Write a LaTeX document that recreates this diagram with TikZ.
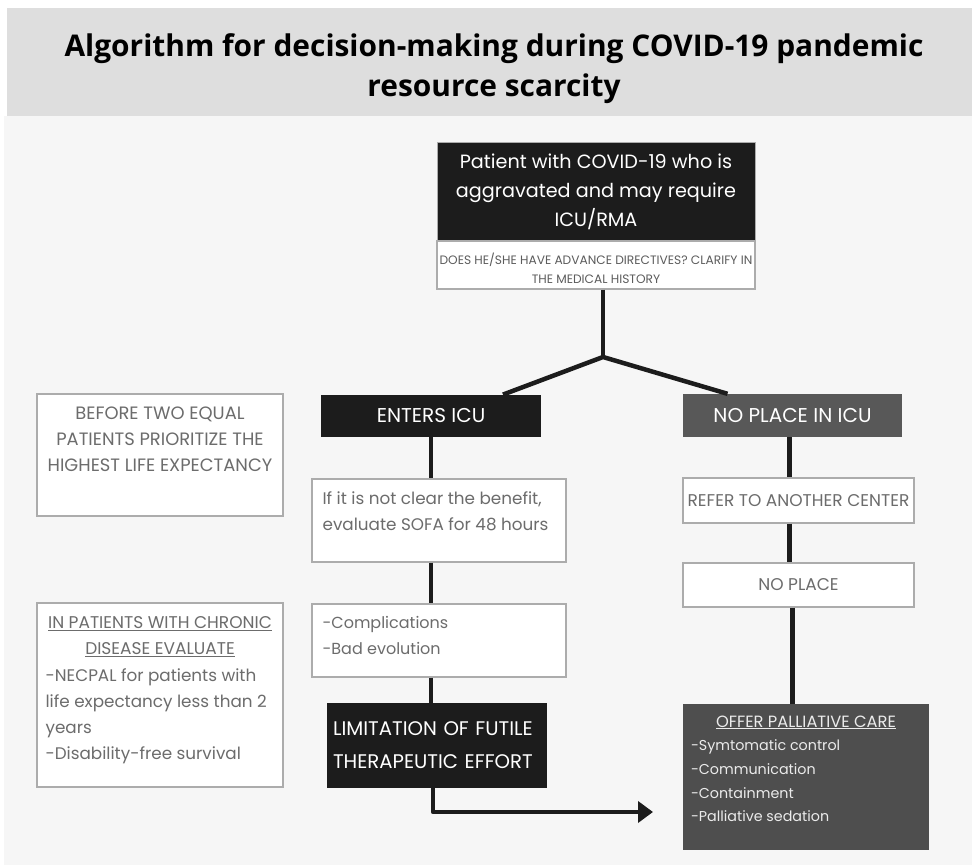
\documentclass[tikz,border=0pt]{standalone}
\usepackage{fontspec}
\setmainfont{Poppins}
\newfontfamily\titlefont{Open Sans}
\usepackage{tikz}
\usetikzlibrary{positioning, calc, arrows.meta}
\definecolor{cvblack}{RGB}{28,28,28}
\definecolor{cvdark}{RGB}{78,78,78}
\definecolor{cvgray}{RGB}{88,88,88}
\definecolor{cvtext}{RGB}{108,108,108}
\definecolor{cvline}{RGB}{172,172,172}
\definecolor{cvband}{RGB}{222,222,222}
\definecolor{cvback}{RGB}{246,246,246}

\begin{document}
\begin{tikzpicture}[x=1pt,y=-1pt,
  darkbox/.style={fill=cvblack,draw=cvline,line width=0.8pt,text=white,inner sep=0pt},
  greybox/.style={fill=cvgray,text=white,inner sep=0pt},
  lightbox/.style={draw=cvline,line width=1.2pt,fill=white,text=cvtext,inner sep=0pt},
  boxtext/.style={text=cvtext,inner sep=0pt,align=left,font=\fontsize{16.8}{26}\selectfont},
  link/.style={draw=cvblack,line width=4.5pt}]
\useasboundingbox (0,0) rectangle (972,866);
\fill[white] (0,0) rectangle (972,866);
\fill[cvback] (4,116) rectangle (972,865);
\fill[cvband] (7,8) rectangle (972,116);
\node[font=\titlefont\bfseries\fontsize{29.9}{40}\selectfont,align=center] (title) at (494,69)
  {Algorithm for decision-making during COVID-19 pandemic\\resource scarcity};

% top of the algorithm
\node[darkbox,minimum width=318pt,minimum height=99pt,align=center,
  font=\fontsize{19.2}{29}\selectfont] (patient) at (596,192)
  {Patient with COVID-19 who is\\aggravated and may require\\ICU/RMA};
\node[lightbox,minimum width=318pt,minimum height=48pt] (adv) at (596,265) {};
\node[text=cvtext!85!black,inner sep=0pt,align=center,font=\fontsize{12.2}{19}\selectfont]
  (adv-t) at ([yshift=-3pt]adv.center)
  {DOES HE/SHE HAVE ADVANCE DIRECTIVES? CLARIFY IN\\THE MEDICAL HISTORY};
\coordinate (fork) at (603,357);

\node[darkbox,draw=none,minimum width=220pt,minimum height=42pt,font=\fontsize{20}{22}\selectfont]
  (icu) at (431,416) {ENTERS ICU};
\node[greybox,minimum width=219pt,minimum height=43pt,font=\fontsize{20}{22}\selectfont]
  (nop) at (792.5,415.5) {NO PLACE IN ICU};
\draw[link] (adv.south -| fork) -- (fork);
\draw[link,line join=round] ([xshift=72pt]icu.north) -- (fork) -- ([xshift=-65pt]nop.north);

% left column
\node[lightbox,minimum width=246pt,minimum height=122pt] (before) at (160,455) {};
\node[text=cvtext,inner sep=0pt,align=center,font=\fontsize{17.9}{26}\selectfont,anchor=north]
  (before-t) at ([yshift=-13pt]before.north)
  {BEFORE TWO EQUAL\\PATIENTS PRIORITIZE THE\\HIGHEST LIFE EXPECTANCY};
\node[lightbox,minimum width=246pt,minimum height=184pt] (chronic) at (160,695) {};
\node[text=cvtext,inner sep=0pt,align=center,font=\fontsize{17}{26}\selectfont,anchor=north]
  (chronic-h) at ([yshift=-14pt]chronic.north)
  {\underline{IN PATIENTS WITH CHRONIC}\\\underline{DISEASE EVALUATE}};
\node[boxtext,anchor=north west]
  (chronic-t) at ([xshift=9pt,yshift=-66pt]chronic.north west)
  {-NECPAL for patients with\\life expectancy less than 2\\years\\-Disability-free survival};

% ICU branch
\node[lightbox,minimum width=254pt,minimum height=83pt] (sofa) at (439,520.5) {};
\node[boxtext,anchor=north west] (sofa-t) at ([xshift=11pt,yshift=-13.5pt]sofa.north west)
  {If it is not clear the benefit,\\evaluate SOFA for 48 hours};
\node[lightbox,minimum width=254pt,minimum height=73pt] (comp) at (439,640.5) {};
\node[boxtext,font=\fontsize{16}{26}\selectfont,anchor=north west] (comp-t)
  at ([xshift=11pt,yshift=-13pt]comp.north west)
  {-Complications\\-Bad evolution};
\node[darkbox,draw=none,minimum width=220pt,minimum height=85pt,align=left,text width=208pt,
  font=\fontsize{19.7}{33}\selectfont] (limit) at (437,745.5)
  {LIMITATION OF FUTILE\\THERAPEUTIC EFFORT};
\coordinate (limit-end) at (653,812);
\draw[link] (icu.south) -- (icu.south |- sofa.north);
\draw[link] (sofa.south -| icu) -- (comp.north -| icu);
\draw[link] (comp.south -| icu) -- (limit.north -| icu);
\draw[link,line join=round,-{Triangle[length=15pt,width=21pt]}]
  ([xshift=-4pt]limit.south) |- (limit-end);

% no place branch
\node[lightbox,minimum width=231pt,minimum height=45pt,font=\fontsize{17}{20}\selectfont]
  (refer) at (798.5,500.5) {REFER TO ANOTHER CENTER};
\node[lightbox,minimum width=231pt,minimum height=44pt,font=\fontsize{17}{20}\selectfont]
  (noplace) at (798.5,585) {NO PLACE};
\node[fill=cvdark,minimum width=246pt,minimum height=146pt] (pall) at (806,777) {};
\node[text=white!92!black,inner sep=0pt,font=\fontsize{16.3}{20}\selectfont,anchor=north]
  (pall-h) at ([yshift=-11.5pt]pall.north) {\underline{OFFER PALLIATIVE CARE}};
\node[boxtext,text=white!92!black,font=\fontsize{14.3}{23.7}\selectfont,anchor=north west]
  (pall-t) at ([xshift=8pt,yshift=-36pt]pall.north west)
  {-Symtomatic control\\-Communication\\-Containment\\-Palliative sedation};
\draw[link] ([xshift=-3pt]nop.south) -- ([xshift=-3pt]nop.south |- refer.north);
\draw[link] ([xshift=-3pt]refer.south -| nop) -- ([xshift=-3pt]noplace.north -| nop);
\draw[link] (noplace.south -| nop) -- (pall.north -| nop);
\end{tikzpicture}
\end{document}
